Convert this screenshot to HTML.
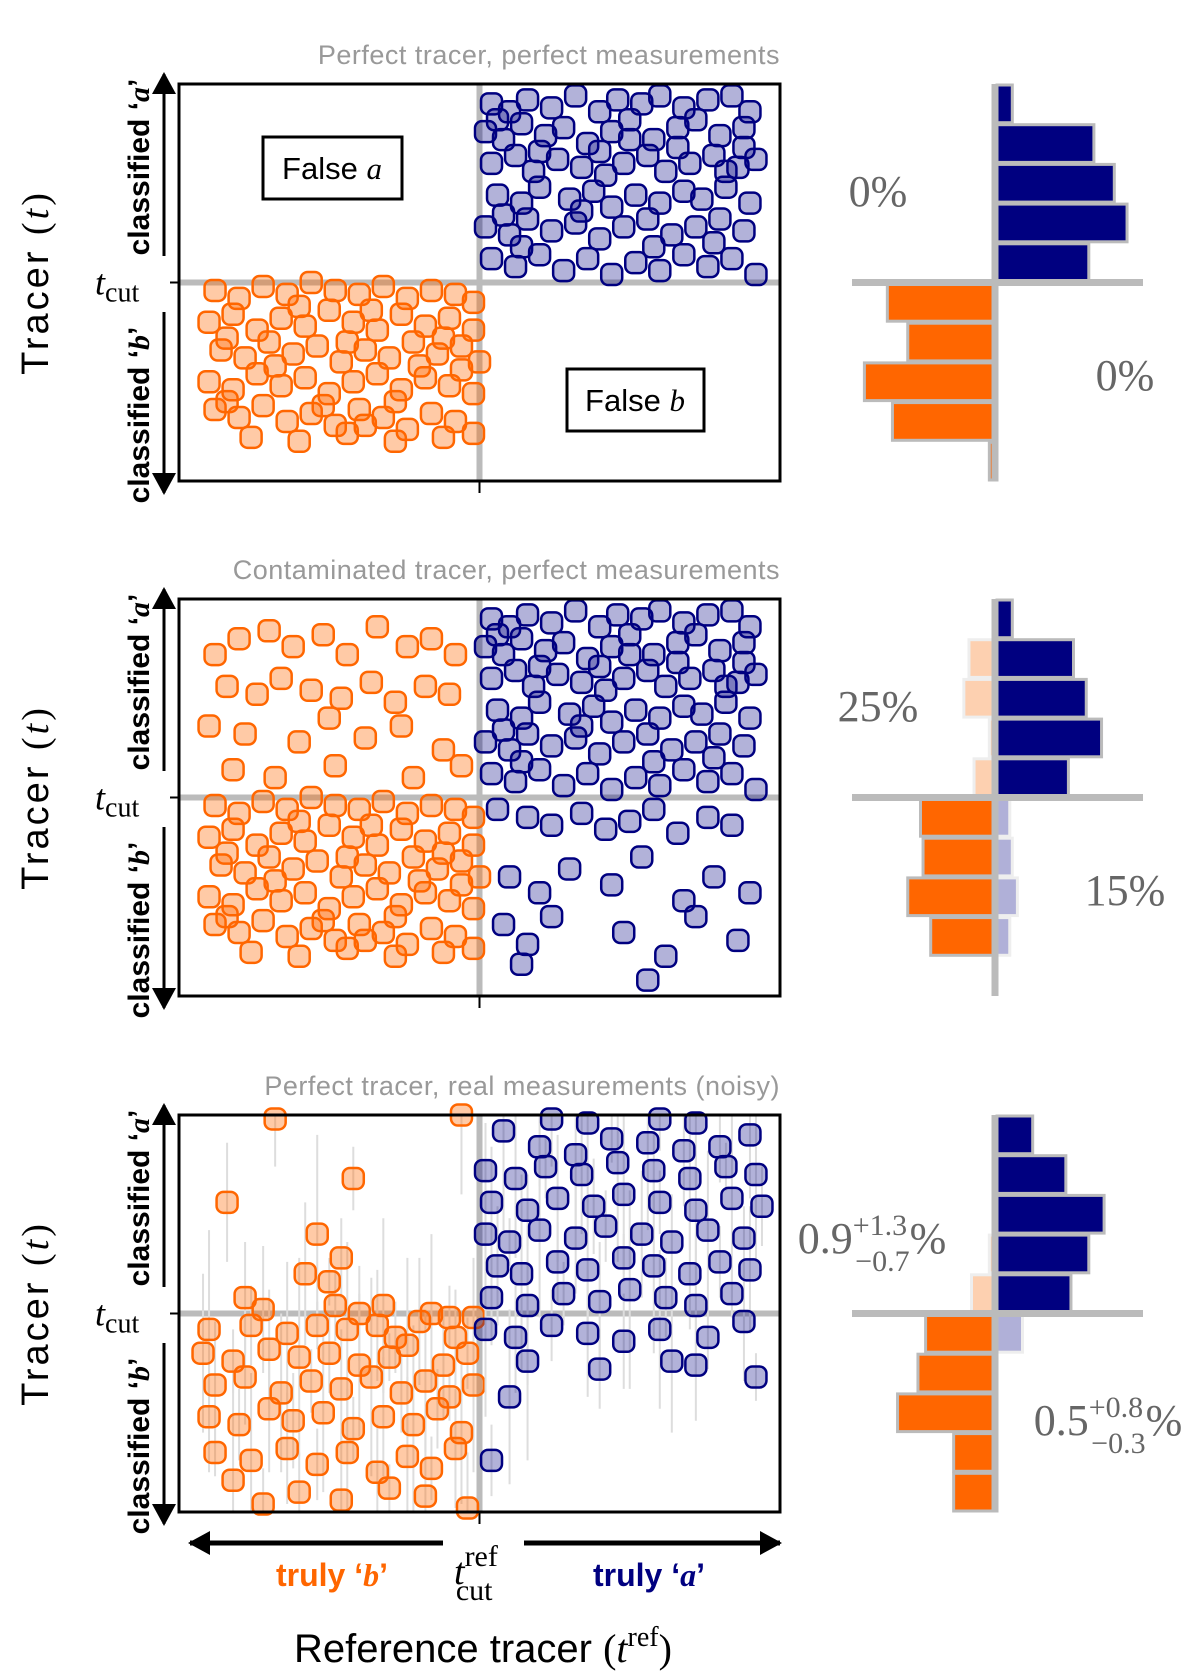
<!DOCTYPE html>
<html><head><meta charset="utf-8"><style>
html,body{margin:0;padding:0;background:#fff;}
svg{display:block;}
text{font-family:"Liberation Sans","DejaVu Sans",sans-serif;}
.serif{font-family:"Liberation Serif","DejaVu Serif",serif;}
</style></head><body>
<svg id="fig" width="1200" height="1680" viewBox="0 0 1200 1680" xmlns="http://www.w3.org/2000/svg">
<defs>
<marker id="ah" markerWidth="22" markerHeight="24" refX="20" refY="12" orient="auto" markerUnits="userSpaceOnUse" viewBox="0 0 22 24"><path d="M0,0 L22,12 L0,24 z" fill="#000"/></marker>
</defs>
</svg>
<script>
// ---- data (units: 0..100 on both axes, cut at 50) ----
const blueA=[[52,95],[55,93],[58,96],[62,94],[66,97],[70,93],[73,96],[77,95],[80,97],[84,94],[88,96],[92,97],[95,93],
[51,88],[54,86],[57,90],[61,87],[64,89],[68,85],[72,88],[75,91],[79,86],[83,89],[86,91],[90,87],[94,89],
[52,80],[56,82],[59,78],[63,81],[67,79],[70,83],[74,80],[78,82],[81,78],[85,80],[89,82],[93,79],[96,81],
[53,72],[57,70],[60,74],[65,71],[69,73],[72,69],[76,72],[80,70],[84,73],[87,71],[91,74],[95,70],
[51,64],[55,62],[58,66],[62,63],[66,65],[70,61],[74,64],[78,66],[82,62],[86,64],[90,66],[94,63],
[52,56],[56,54],[60,57],[64,53],[68,56],[72,52],[76,55],[80,53],[84,57],[88,54],[92,56],[96,52],
[53,91],[60,83],[71,77],[83,84],[91,78],[54,67],[67,68],[79,59],[89,60],[57,59],[75,86],[94,84]];
const orangeA=[[6,48],[10,46],[14,49],[18,47],[22,50],[26,48],[30,47],[34,49],[38,46],[42,48],[46,47],[49,45],
[5,40],[9,42],[13,38],[17,41],[21,39],[25,43],[29,40],[33,38],[37,42],[41,39],[45,41],[49,38],
[7,33],[11,31],[15,35],[19,32],[23,34],[27,30],[31,33],[35,31],[39,35],[43,32],[47,34],[50,30],
[5,25],[9,23],[13,27],[17,24],[21,26],[25,22],[29,25],[33,27],[37,23],[41,26],[45,24],[49,22],
[6,18],[10,16],[14,19],[18,15],[22,17],[26,14],[30,18],[34,16],[38,13],[42,17],[46,15],[49,12],
[12,11],[20,10],[28,12],[36,10],[44,11],
[8,36],[20,44],[32,43],[44,36],[16,29],[28,35],[40,29],[8,20],[24,19],[36,20],[47,28],[31,14]];
const orangeContam=[[6,86],[10,90],[15,92],[19,88],[24,91],[28,86],[33,93],[38,88],[42,90],[46,86],[8,78],[13,76],[17,80],[22,77],[27,75],[32,79],[36,74],[41,78],[45,76],[5,68],[11,66],[20,64],[25,70],[31,65],[37,68],[44,62],[9,57],[16,55],[26,58],[39,55],[47,58]];
const blueContam=[[53,47],[58,45],[62,43],[67,46],[71,42],[75,44],[79,47],[83,41],[88,45],[92,43],
[55,30],[60,26],[65,32],[72,28],[77,35],[84,24],[89,30],[95,26],
[54,18],[58,13],[62,20],[74,16],[81,10],[86,20],[93,14],[57,8],[78,4]];
const orangeC=[[16,99],[47,100],[29,84],[8,78],[23,70],[27,64],[21,60],[25,58],[34,52],[11,54],[26,52],[14,51],[30,50],[42,50],[45,49],[49,49],
[5,46],[12,47],[18,45],[23,47],[28,46],[33,47],[36,44],[40,48],[46,44],
[4,40],[9,38],[15,41],[20,39],[25,40],[30,37],[35,39],[38,42],[44,37],[48,40],
[6,32],[11,34],[17,30],[22,33],[27,31],[32,34],[37,30],[41,33],[45,29],[49,32],
[5,24],[10,22],[15,26],[19,23],[24,25],[29,21],[34,24],[39,22],[43,26],[47,20],
[6,15],[12,13],[18,16],[23,12],[28,15],[33,10],[38,14],[42,11],[46,16],
[9,8],[20,5],[27,3],[35,6],[41,4],[48,1],[14,2]];
const blueC=[[62,99],[68,98],[80,99],[86,98],[54,96],[60,92],[66,90],[72,94],[78,93],[84,91],[90,92],[95,95],
[51,86],[56,84],[61,87],[67,85],[73,88],[79,86],[85,84],[91,87],[96,85],
[52,78],[58,76],[63,79],[69,77],[74,80],[80,78],[86,76],[92,79],[97,77],
[51,70],[55,68],[60,71],[66,69],[71,72],[77,70],[82,68],[88,71],[94,69],
[53,62],[57,60],[63,63],[68,61],[74,64],[79,62],[85,60],[90,63],[95,61],
[52,54],[58,52],[64,55],[70,53],[75,56],[81,54],[86,52],[92,55],
[51,46],[56,44],[62,47],[68,45],[74,43],[80,46],[88,44],[94,48],
[58,38],[70,36],[82,38],[96,34],[55,29],[86,37],[52,13]];
const errC=[12,20,8,15,25,10,18,6,22,14,9,16];
const h1BlueTop=[6,38,46,51,36], h1OrangeBot=[43,35,52,41,3];
const h2BlueTop=[6,30,35,41,28], h2OrangeTop=[0,11,13,3,9], h2OrangeBot=[30,29,35,26,0], h2BlueBot=[5,6,8,5,0];
const h3BlueTop=[14,27,42,36,29], h3OrangeTop=[0,0,0,3,10], h3OrangeBot=[28,31,39,17,17], h3BlueBot=[10,0,0,0,0];
const titles=["Perfect tracer, perfect measurements","Contaminated tracer, perfect measurements","Perfect tracer, real measurements (noisy)"];

const NS="http://www.w3.org/2000/svg";
const svg=document.getElementById('fig');
function mk(tag,attrs,parent,text){const e=document.createElementNS(NS,tag);for(const k in attrs)e.setAttribute(k,attrs[k]);if(text!==undefined)e.textContent=text;(parent||svg).appendChild(e);return e;}
const X0=179,X1=780,H=397;
const panelsTop=[84,599,1115];
const HX=997, HSCALE=2.55;
function xs(v){return X0+(X1-X0)*v/100;}
function ys(top,v){return top+H*(1-v/100);}
const BLUE='#000080',ORANGE='#ff6600';
const MS=21;

function scatter(g,top,pts,color,fill,name,errs){
  pts.forEach((p,i)=>{
    const cx=xs(p[0]),cy=ys(top,p[1]);
    if(errs){const e=errs[i%errs.length]*H/100;
      const l=mk('line',{x1:cx,x2:cx,y1:Math.max(top,cy-e),y2:Math.min(top+H,cy+e),stroke:'#ddd','stroke-width':2},g);
      
      }
  });
  pts.forEach((p)=>{
    const cx=xs(p[0]),cy=ys(top,p[1]);
    const r=mk('rect',{x:cx-MS/2,y:cy-MS/2,width:MS,height:MS,rx:7,fill:fill,stroke:color,'stroke-width':2.5},g);
    
    
  });
}
function hist(g,top,counts,side,upper,fill,stroke,name){
  const bh=H/10, mid=top+H/2;
  counts.forEach((c,i)=>{
    if(!c)return;
    const w=c*HSCALE;
    const y=upper?top+i*bh:mid+i*bh;
    const x=side>0?HX:HX-w;
    const r=mk('rect',{x:x,y:y+1,width:w,height:bh-2,fill:fill,stroke:stroke,'stroke-width':3},g);
    
    
  });
}

panelsTop.forEach((top,pi)=>{
  const g=mk('g',{});
  
  
  const mid=top+H/2, xm=xs(50);
  const t=mk('text',{x:X1,y:top-20,'text-anchor':'end','font-size':27,fill:'#999','letter-spacing':'0.5'},g,titles[pi]);
  
  const yl=mk('text',{transform:`translate(48,${mid}) rotate(-90)`,'text-anchor':'middle','font-size':38,fill:'#000','letter-spacing':'3'},g);
  
  yl.innerHTML='Tracer <tspan class="serif">(</tspan><tspan class="serif" font-style="italic">t</tspan><tspan class="serif">)</tspan>';
  const ca=mk('text',{transform:`translate(149,${top+83}) rotate(-90)`,'text-anchor':'middle','font-size':30,'font-weight':'bold'},g);
  ca.innerHTML='classified ‘<tspan class="serif" font-style="italic">a</tspan>’';
  
  const cb=mk('text',{transform:`translate(149,${top+H-66}) rotate(-90)`,'text-anchor':'middle','font-size':30,'font-weight':'bold'},g);
  cb.innerHTML='classified ‘<tspan class="serif" font-style="italic">b</tspan>’';
  
  const a1=mk('line',{x1:164,x2:164,y1:top+172,y2:top-10,stroke:'#000','stroke-width':3,'marker-end':'url(#ah)'},g);
  
  const a2=mk('line',{x1:164,x2:164,y1:top+228,y2:top+H+12,stroke:'#000','stroke-width':3,'marker-end':'url(#ah)'},g);
  
  const tc=mk('text',{x:95,y:mid+12,'font-size':36,class:'serif'},g);
  tc.innerHTML='<tspan font-style="italic">t</tspan><tspan font-size="28" dy="7">cut</tspan>';
  
  mk('line',{x1:170,x2:X0,y1:mid,y2:mid,stroke:'#000','stroke-width':2},g);
  mk('rect',{x:X0,y:top,width:X1-X0,height:H,fill:'#fff',stroke:'none'},g);
  mk('line',{x1:X0,x2:X1,y1:mid,y2:mid,stroke:'#bbb','stroke-width':6},g);
  mk('line',{x1:xm,x2:xm,y1:top,y2:top+H,stroke:'#bbb','stroke-width':6},g);
  mk('line',{x1:xm,x2:xm,y1:top+H,y2:top+H+12,stroke:'#000','stroke-width':2},g);
  const sg=mk('g',{},g);
  
  const lo='rgba(255,102,0,0.35)', lb='rgba(0,0,128,0.3)';
  if(pi===0){scatter(sg,top,orangeA,ORANGE,lo,'point-truly-b');scatter(sg,top,blueA,BLUE,lb,'point-truly-a');}
  if(pi===1){scatter(sg,top,orangeA,ORANGE,lo,'point-truly-b');scatter(sg,top,orangeContam,ORANGE,lo,'point-false-a');
             scatter(sg,top,blueA,BLUE,lb,'point-truly-a');scatter(sg,top,blueContam,BLUE,lb,'point-false-b');}
  if(pi===2){scatter(sg,top,orangeC,ORANGE,lo,'point-truly-b',errC);scatter(sg,top,blueC,BLUE,lb,'point-truly-a',errC);}
  const fr=mk('rect',{x:X0,y:top,width:X1-X0,height:H,fill:'none',stroke:'#000','stroke-width':3},g);
  
  if(pi===0){
    const fa=mk('g',{},g);
    mk('rect',{x:263,y:137,width:139,height:62,fill:'#fff',stroke:'#000','stroke-width':3},fa);
    const ft=mk('text',{x:332,y:179,'text-anchor':'middle','font-size':31},fa);ft.innerHTML='False <tspan class="serif" font-style="italic">a</tspan>';
    const fb=mk('g',{},g);
    mk('rect',{x:567,y:369,width:137,height:62,fill:'#fff',stroke:'#000','stroke-width':3},fb);
    const ft2=mk('text',{x:635,y:411,'text-anchor':'middle','font-size':31},fb);ft2.innerHTML='False <tspan class="serif" font-style="italic">b</tspan>';
  }
  const hg=mk('g',{},g);
  
  if(pi===0){hist(hg,top,h1BlueTop,1,true,BLUE,'#bbb','hist-bar-a');hist(hg,top,h1OrangeBot,-1,false,ORANGE,'#bbb','hist-bar-b');}
  if(pi===1){hist(hg,top,h2BlueTop,1,true,BLUE,'#bbb','hist-bar-a');hist(hg,top,h2OrangeTop,-1,true,'#fdd0b0','#eee','hist-bar-false-a');
             hist(hg,top,h2OrangeBot,-1,false,ORANGE,'#bbb','hist-bar-b');hist(hg,top,h2BlueBot,1,false,'#b0b0d8','#eee','hist-bar-false-b');}
  if(pi===2){hist(hg,top,h3BlueTop,1,true,BLUE,'#bbb','hist-bar-a');hist(hg,top,h3OrangeTop,-1,true,'#fdd0b0','#eee','hist-bar-false-a');
             hist(hg,top,h3OrangeBot,-1,false,ORANGE,'#bbb','hist-bar-b');hist(hg,top,h3BlueBot,1,false,'#b0b0d8','#eee','hist-bar-false-b');}
  mk('line',{x1:HX-2,x2:HX-2,y1:top,y2:top+H,stroke:'#bbb','stroke-width':7},hg);
  mk('line',{x1:852,x2:1143,y1:mid,y2:mid,stroke:'#bbb','stroke-width':7},hg);
  const pa=mk('text',{class:'serif','font-size':44,fill:'#666','text-anchor':'middle'},g);
  const pb=mk('text',{class:'serif','font-size':44,fill:'#666','text-anchor':'middle'},g);
  
  
  if(pi===0){pa.setAttribute('x',878);pa.setAttribute('y',top+122);pa.textContent='0%';pb.setAttribute('x',1125);pb.setAttribute('y',top+306);pb.textContent='0%';}
  if(pi===1){pa.setAttribute('x',878);pa.setAttribute('y',top+122);pa.textContent='25%';pb.setAttribute('x',1125);pb.setAttribute('y',top+306);pb.textContent='15%';}
  if(pi===2){pa.setAttribute('x',872);pa.setAttribute('y',top+138);pa.innerHTML='0.9<tspan font-size="30" dy="-18">+1.3</tspan><tspan font-size="30" dx="-52" dy="36">−0.7</tspan><tspan dy="-18">%</tspan>';
             pb.setAttribute('x',1108);pb.setAttribute('y',top+320);pb.innerHTML='0.5<tspan font-size="30" dy="-18">+0.8</tspan><tspan font-size="30" dx="-52" dy="36">−0.3</tspan><tspan dy="-18">%</tspan>';}
});
const xg=mk('g',{});

mk('line',{x1:443,x2:190,y1:1543,y2:1543,stroke:'#000','stroke-width':5,'marker-end':'url(#ah)'},xg);
mk('line',{x1:524,x2:780,y1:1543,y2:1543,stroke:'#000','stroke-width':5,'marker-end':'url(#ah)'},xg);
const tb=mk('text',{x:332,y:1586,'text-anchor':'middle','font-size':32,'font-weight':'bold',fill:ORANGE},xg);
tb.innerHTML='truly ‘<tspan class="serif" font-style="italic">b</tspan>’';

const ta=mk('text',{x:649,y:1586,'text-anchor':'middle','font-size':32,'font-weight':'bold',fill:BLUE},xg);
ta.innerHTML='truly ‘<tspan class="serif" font-style="italic">a</tspan>’';

const tr=mk('text',{x:454,y:1584,'font-size':38,class:'serif'},xg);
tr.innerHTML='<tspan font-style="italic">t</tspan><tspan font-size="30" dy="-18">ref</tspan><tspan font-size="30" dx="-42" dy="34">cut</tspan>';

const xt=mk('text',{x:483,y:1662,'text-anchor':'middle','font-size':40},xg);
xt.innerHTML='Reference tracer <tspan class="serif">(</tspan><tspan class="serif" font-style="italic">t</tspan><tspan class="serif" font-size="28" dy="-16">ref</tspan><tspan class="serif" dy="16">)</tspan>';

</script>
</body></html>
